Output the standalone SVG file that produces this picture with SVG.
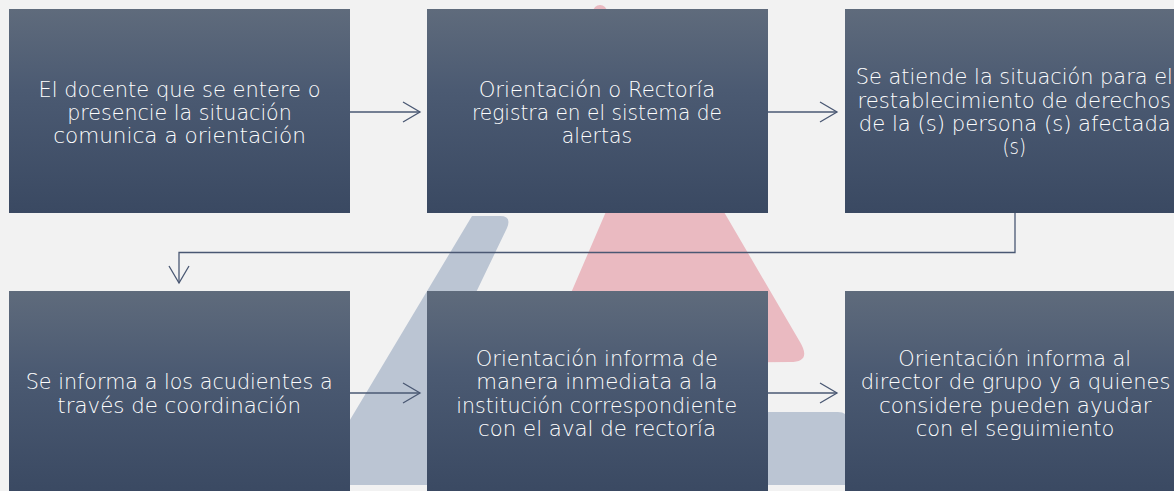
<svg xmlns="http://www.w3.org/2000/svg" width="1174" height="491" viewBox="0 0 1174 491">
<style>
.box{fill:url(#boxGrad)}
.lbl{font-family:"DejaVu Sans","Liberation Sans",sans-serif;font-size:21px;font-weight:300;fill:#ffffff;text-anchor:middle}
.conn{fill:none;stroke:#4a5873;stroke-width:1.3;marker-end:url(#arrow)}
.wm-red{fill:#eabac1}
.wm-gray{fill:#bbc5d3}
</style>
<defs>
<linearGradient id="boxGrad" x1="0" y1="0" x2="0" y2="1">
<stop offset="0" stop-color="#5f6b7c"/>
<stop offset="0.4" stop-color="#4b5a72"/>
<stop offset="1" stop-color="#3a4962"/>
</linearGradient>
<marker id="arrow" markerUnits="userSpaceOnUse" markerWidth="22" markerHeight="24" viewBox="-2 -12 22 24" refX="17" refY="0" orient="auto">
<path d="M0,-10 L17,0 L0,10" fill="none" stroke="#4a5873" stroke-width="1.3"/>
</marker>
</defs>
<rect width="1174" height="491" fill="#f2f2f2"/>
<g id="watermark">
<circle class="wm-red" cx="600" cy="12" r="7"/>
<path class="wm-red" d="M611,200 L540,365 L790,362 Q812,362 800,342 L717,200 Z"/>
<path class="wm-gray" d="M472,216 L500,216 Q512,216 507,228 L470,305 L470,412 L838,412 Q847,412 850,421 L850,485 L311,485 Z"/>
</g>
<g id="connectors">
<path class="conn" d="M350,112 H420"/>
<path class="conn" d="M768,112 H837"/>
<path class="conn" d="M1015,213 V252.5 H179 V283"/>
<path class="conn" d="M350,393 H420"/>
<path class="conn" d="M768,393 H837"/>
</g>
<g id="node1">
<rect class="box" x="9" y="9" width="341" height="204"/>
<text class="lbl"><tspan x="179.5" y="96.7" textLength="282" lengthAdjust="spacingAndGlyphs">El docente que se entere o</tspan><tspan x="179.5" y="120" textLength="224.7" lengthAdjust="spacingAndGlyphs">presencie la situación</tspan><tspan x="179.5" y="143.3" textLength="252.7" lengthAdjust="spacingAndGlyphs">comunica a orientación</tspan></text>
</g>
<g id="node2">
<rect class="box" x="427" y="9" width="341" height="204"/>
<text class="lbl"><tspan x="597" y="96.7" textLength="236.7" lengthAdjust="spacingAndGlyphs">Orientación o Rectoría</tspan><tspan x="597" y="120" textLength="250" lengthAdjust="spacingAndGlyphs">registra en el sistema de</tspan><tspan x="597" y="143.3" textLength="70.3" lengthAdjust="spacingAndGlyphs">alertas</tspan></text>
</g>
<g id="node3">
<rect class="box" x="845" y="9" width="341" height="204"/>
<text class="lbl"><tspan x="1014.3" y="84.3" textLength="317" lengthAdjust="spacingAndGlyphs">Se atiende la situación para el</tspan><tspan x="1014.3" y="107.7" textLength="313.7" lengthAdjust="spacingAndGlyphs">restablecimiento de derechos</tspan><tspan x="1014.8" y="131" textLength="312" lengthAdjust="spacingAndGlyphs">de la (s) persona (s) afectada</tspan><tspan x="1014.3" y="154.3" textLength="23.5" lengthAdjust="spacingAndGlyphs">(s)</tspan></text>
</g>
<g id="node4">
<rect class="box" x="9" y="291" width="341" height="204"/>
<text class="lbl"><tspan x="179.2" y="389.3" textLength="307" lengthAdjust="spacingAndGlyphs">Se informa a los acudientes a</tspan><tspan x="179.2" y="412.7" textLength="243.7" lengthAdjust="spacingAndGlyphs">través de coordinación</tspan></text>
</g>
<g id="node5">
<rect class="box" x="427" y="291" width="341" height="204"/>
<text class="lbl"><tspan x="596.8" y="366" textLength="242" lengthAdjust="spacingAndGlyphs">Orientación informa de</tspan><tspan x="597" y="389.3" textLength="241.3" lengthAdjust="spacingAndGlyphs">manera inmediata a la</tspan><tspan x="596.7" y="412.7" textLength="280.7" lengthAdjust="spacingAndGlyphs">institución correspondiente</tspan><tspan x="597" y="436" textLength="238" lengthAdjust="spacingAndGlyphs">con el aval de rectoría</tspan></text>
</g>
<g id="node6">
<rect class="box" x="845" y="291" width="341" height="204"/>
<text class="lbl"><tspan x="1014.7" y="366" textLength="232.7" lengthAdjust="spacingAndGlyphs">Orientación informa al</tspan><tspan x="1015.5" y="389.3" textLength="309.7" lengthAdjust="spacingAndGlyphs">director de grupo y a quienes</tspan><tspan x="1015.3" y="412.7" textLength="272.7" lengthAdjust="spacingAndGlyphs">considere pueden ayudar</tspan><tspan x="1015" y="436" textLength="198.7" lengthAdjust="spacingAndGlyphs">con el seguimiento</tspan></text>
</g>
</svg>
